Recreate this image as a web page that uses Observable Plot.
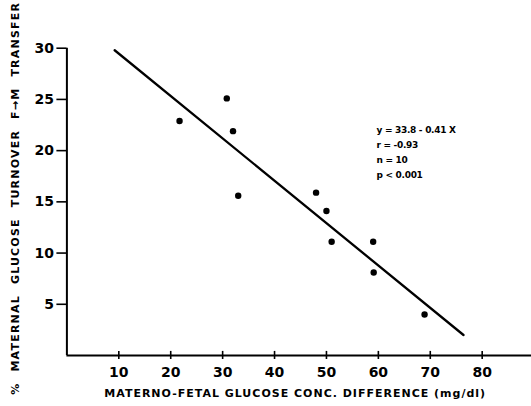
<!DOCTYPE html>
<html><head><meta charset="utf-8">
<script src="https://cdn.jsdelivr.net/npm/d3@7"></script>
<script src="https://cdn.jsdelivr.net/npm/@observablehq/plot@0.6"></script>
<style>body{margin:0;background:#fff} svg{display:block}</style>
</head><body><div id="chart"></div>
<script>
const xDiff = [21.7, 30.8, 32.0, 33.0, 48.0, 50.0, 51.0, 59.0, 59.1, 68.9];
const yTurnover = [22.9, 25.1, 21.9, 15.6, 15.9, 14.1, 11.1, 11.1, 8.1, 4.0];
const fitX = [9.2, 76.4];
const fitY = [29.8, 2.0];
const xTicks = [10, 20, 30, 40, 50, 60, 70, 80];
const yTicks = [5, 10, 15, 20, 25, 30];
const statsLines = ["y = 33.8 - 0.41 X", "r = -0.93", "n = 10", "p < 0.001"];
const xLabel = "MATERNO-FETAL GLUCOSE CONC. DIFFERENCE (mg/dl)";
const yLabel = "% MATERNAL GLUCOSE TURNOVER F→M TRANSFER";

const points = xDiff.map((x, i) => ({x, y: yTurnover[i]}));
const fit = fitX.map((x, i) => ({x, y: fitY[i]}));
const xMax = 89.5;

const chart = Plot.plot({
  width: 531,
  height: 406,
  marginLeft: 66.4,
  marginRight: 0,
  marginTop: 47.7,
  marginBottom: 51,
  x: {domain: [0, xMax]},
  y: {domain: [0, 30]},
  style: {fontFamily: "'DejaVu Sans', sans-serif", fontWeight: "bold", color: "#000", background: "#fff"},
  marks: [
    Plot.ruleY([0], {x1: 0, x2: xMax, strokeWidth: 2}),
    Plot.ruleX([0], {y1: 0, y2: 30, strokeWidth: 2}),
    Plot.axisY(yTicks, {tickSize: 10, tickPadding: 3, fontSize: 14, strokeWidth: 1.6, strokeOpacity: 1, label: null}),
    Plot.axisX(xTicks, {tickSize: 4, tickPadding: 8, fontSize: 14, strokeWidth: 1.6, strokeOpacity: 1, label: null}),
    Plot.ruleX(xTicks, {y1: 0, y2: 0.4, strokeWidth: 1.6}),
    Plot.line(fit, {x: "x", y: "y", strokeWidth: 2.3}),
    Plot.dot(points, {x: "x", y: "y", r: 3.2, fill: "#000"}),
    Plot.text([statsLines.join("\n")], {x: 59.65, y: 22.75, textAnchor: "start", lineAnchor: "top", fontSize: 9, lineHeight: 1.65}),
    Plot.text([xLabel], {frameAnchor: "bottom", textAnchor: "middle", dx: -4, dy: 38, fontSize: 11, lineAnchor: "middle"}),
    Plot.text([yLabel], {frameAnchor: "left", textAnchor: "middle", rotate: -90, dx: -51.4, dy: -3.5, fontSize: 11, lineAnchor: "middle"})
  ]
});
const svg = d3.select(chart);
svg.selectAll("text").filter(function () { return this.textContent === xLabel; })
  .style("letter-spacing", "1px");
svg.selectAll("text").filter(function () { return this.textContent === yLabel; })
  .style("letter-spacing", "1.2px").style("word-spacing", "6px");
svg.selectAll("text").filter(function () { return this.textContent.startsWith("y = 33.8"); })
  .style("letter-spacing", "-0.3px");
document.getElementById("chart").appendChild(chart);
</script>
</body></html>
